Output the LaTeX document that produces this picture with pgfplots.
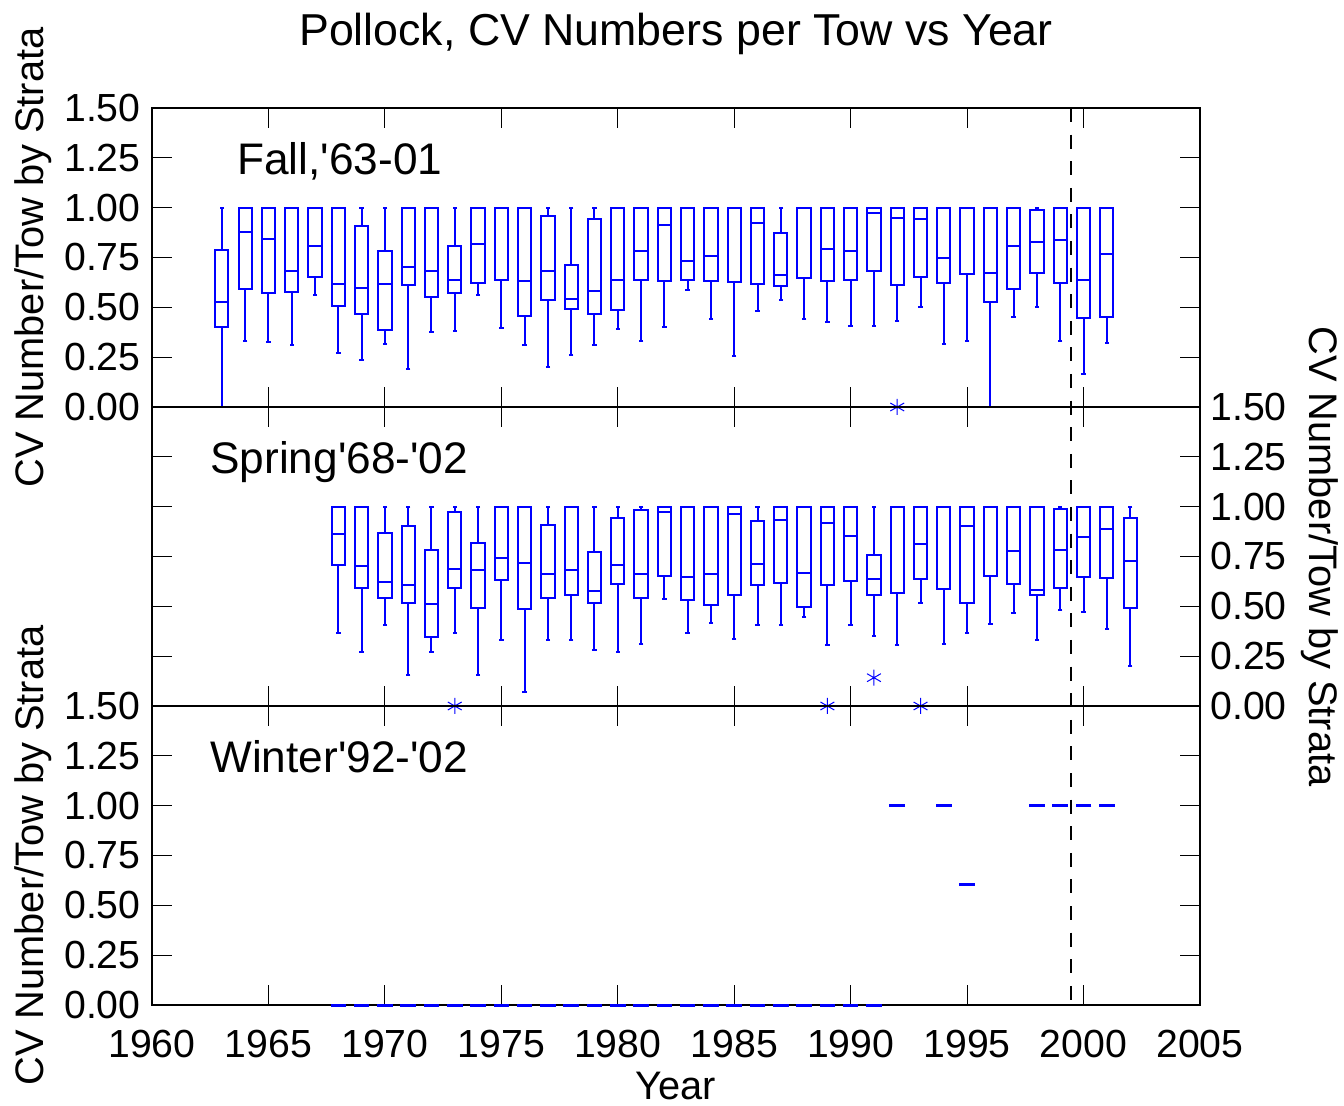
\documentclass[border=0pt]{standalone}
\usepackage{pgfplots}
\usepackage{pgfplotstable}
\pgfplotsset{compat=1.18}
\usepackage{fontspec}
\setmainfont{Liberation Sans}[Ligatures=TeXOff]

% year, lower whisker, lower quartile, median, upper quartile, upper whisker
\pgfplotstableread{
year lw q1 med q3 uw
1963 0 0.40 0.525 0.79 1.0
1964 0.333 0.59 0.878 1.0 1.0
1965 0.327 0.57 0.845 1.0 1.0
1966 0.312 0.577 0.683 1.0 1.0
1967 0.56 0.653 0.807 1.0 1.0
1968 0.273 0.507 0.615 1.0 1.0
1969 0.235 0.467 0.595 0.907 1.0
1970 0.317 0.388 0.615 0.783 1.0
1971 0.192 0.612 0.702 1.0 1.0
1972 0.375 0.552 0.683 1.0 1.0
1973 0.383 0.57 0.638 0.808 1.0
1974 0.562 0.622 0.82 1.0 1.0
1975 0.398 0.635 1.0 1.0 1.0
1976 0.312 0.458 0.632 1.0 1.0
1977 0.2 0.538 0.682 0.957 1.0
1978 0.263 0.49 0.543 0.713 1.0
1979 0.312 0.465 0.583 0.943 1.0
1980 0.393 0.488 0.638 1.0 1.0
1981 0.333 0.638 0.783 1.0 1.0
1982 0.4 0.632 0.913 1.0 1.0
1983 0.588 0.638 0.732 1.0 1.0
1984 0.44 0.632 0.758 1.0 1.0
1985 0.258 0.627 1.0 1.0 1.0
1986 0.48 0.615 0.923 1.0 1.0
1987 0.538 0.608 0.66 0.875 1.0
1988 0.44 0.645 1.0 1.0 1.0
1989 0.428 0.633 0.793 1.0 1.0
1990 0.408 0.637 0.783 1.0 1.0
1991 0.408 0.683 0.973 1.0 1.0
1992 0.43 0.612 0.947 1.0 1.0
1993 0.5 0.652 0.942 1.0 1.0
1994 0.317 0.622 0.747 1.0 1.0
1995 0.333 0.667 1.0 1.0 1.0
1996 0 0.528 0.673 1.0 1.0
1997 0.453 0.592 0.808 1.0 1.0
1998 0.5 0.67 0.828 0.987 1.0
1999 0.333 0.623 0.84 1.0 1.0
2000 0.168 0.448 0.638 1.0 1.0
2001 0.322 0.45 0.77 1.0 1.0
}\fall

\pgfplotstableread{
year lw q1 med q3 uw
1968 0.365 0.705 0.863 1.0 1.0
1969 0.273 0.593 0.70 1.0 1.0
1970 0.408 0.542 0.62 0.87 1.0
1971 0.158 0.518 0.607 0.905 1.0
1972 0.273 0.348 0.512 0.783 1.0
1973 0.365 0.592 0.687 0.975 1.0
1974 0.153 0.49 0.683 0.818 1.0
1975 0.333 0.633 0.742 1.0 1.0
1976 0.072 0.485 0.717 1.0 1.0
1977 0.333 0.542 0.66 0.91 1.0
1978 0.333 0.557 0.683 1.0 1.0
1979 0.282 0.515 0.577 0.772 1.0
1980 0.273 0.61 0.705 0.943 1.0
1981 0.313 0.543 0.663 0.985 1.0
1982 0.535 0.652 0.972 1.0 1.0
1983 0.368 0.533 0.645 1.0 1.0
1984 0.418 0.507 0.662 1.0 1.0
1985 0.335 0.555 0.962 1.0 1.0
1986 0.408 0.607 0.713 0.93 1.0
1987 0.408 0.615 0.935 1.0 1.0
1988 0.447 0.495 0.667 1.0 1.0
1989 0.305 0.608 0.918 1.0 1.0
1990 0.408 0.627 0.853 1.0 1.0
1991 0.352 0.555 0.635 0.758 1.0
1992 0.305 0.567 1.0 1.0 1.0
1993 0.515 0.638 0.812 1.0 1.0
1994 0.312 0.587 1.0 1.0 1.0
1995 0.368 0.517 0.905 1.0 1.0
1996 0.41 0.653 1.0 1.0 1.0
1997 0.467 0.612 0.778 1.0 1.0
1998 0.333 0.557 0.582 1.0 1.0
1999 0.482 0.592 0.785 0.987 1.0
2000 0.47 0.647 0.85 1.0 1.0
2001 0.387 0.643 0.89 1.0 1.0
2002 0.2 0.492 0.728 0.945 1.0
}\spring

% winter boxes are degenerate: all five statistics equal
\pgfplotstableread{
year med
1968 0
1969 0
1970 0
1971 0
1972 0
1973 0
1974 0
1975 0
1976 0
1977 0
1978 0
1979 0
1980 0
1981 0
1982 0
1983 0
1984 0
1985 0
1986 0
1987 0
1988 0
1989 0
1990 0
1991 0
1992 1.0
1994 1.0
1995 0.607
1998 1.0
1999 1.0
2000 1.0
2001 1.0
}\winter

\tikzset{
  ann/.style={anchor=base west, inner sep=0pt, font=\fontsize{22.1}{26}\selectfont},
  lab/.style={inner sep=0pt, font=\fontsize{19.9}{24}\selectfont},
}
\pgfplotsset{
  bxe/.style={blue, only marks, mark=-, mark size=0pt, line width=1pt,
    error bars/error mark=none,
    error bars/error bar style={blue, line width=1pt, solid, line cap=rect}},
  panel/.style={
    scale only axis, width=524pt, height=149.5pt,
    xmin=1960, xmax=2005, ymin=0, ymax=1.5,
    xtick={1960,1965,...,2005},
    ytick={0,0.25,0.5,0.75,1,1.25,1.5},
    tick align=inside, major tick length=10pt,
    axis line style={line width=1pt},
    tick style={black, line width=0.6pt},
    clip=false,
    /pgf/number format/assume math mode=true,
    tick label style={font=\fontsize{19.6}{22}\selectfont},
    xticklabel style={/pgf/number format/1000 sep={}},
    yticklabel style={/pgf/number format/fixed, /pgf/number format/fixed zerofill, /pgf/number format/precision=2},
  },
}
% box plots drawn from a table: box sides (error bars), whiskers (error bars) with caps (marks),
% quartile and median lines (horizontal marks 0.57 year wide)
\newcommand\boxes[1]{%
  \addplot[bxe, error bars/.cd, y dir=plus, y explicit]
    table[x expr=\thisrow{year}-0.285, y=q1, y error plus expr=\thisrow{q3}-\thisrow{q1}] {#1};
  \addplot[bxe, error bars/.cd, y dir=plus, y explicit]
    table[x expr=\thisrow{year}+0.285, y=q1, y error plus expr=\thisrow{q3}-\thisrow{q1}] {#1};
  \addplot[bxe, mark size=1.1pt, error bars/.cd, y dir=minus, y explicit]
    table[x=year, y=uw, y error minus expr=\thisrow{uw}-\thisrow{q3}] {#1};
  \addplot[bxe, mark size=1.1pt, error bars/.cd, y dir=plus, y explicit]
    table[x=year, y=lw, y error plus expr=\thisrow{q1}-\thisrow{lw}] {#1};
  \addplot[bxe, mark size=3.32pt] table[x=year, y=q1] {#1};
  \addplot[bxe, mark size=3.32pt] table[x=year, y=med] {#1};
  \addplot[bxe, mark size=3.32pt] table[x=year, y=q3] {#1};
}

\begin{document}
\begin{tikzpicture}
\path[use as bounding box] (-76pt,54pt) rectangle (596pt,-499pt);

% ---------------- Fall ----------------
\begin{axis}[panel, at={(0,0)}, anchor=north west, xticklabels={},
  yticklabel style={anchor=east, inner sep=0pt, xshift=-5.5pt}]
\boxes{\fall}
\addplot[blue, only marks, mark=asterisk, mark size=4pt, line width=0.5pt] coordinates {(1992,0)};
\addplot[black, line width=1.2pt, dash pattern=on 7pt off 6.3pt] coordinates {(1999.45,1.5) (1999.45,-3)};
\node[anchor=base, font=\fontsize{22.35}{26}\selectfont, yshift=31pt] at (rel axis cs:0.5,1) {Pollock, CV Numbers per Tow vs Year};
\node[ann] at (rel axis cs:0.081,0.776) {Fall,'63-01};
\node[lab, rotate=90] at (rel axis cs:-0.1135,0.5) {CV Number/Tow by Strata};
\end{axis}

% ---------------- Spring ----------------
\begin{axis}[panel, at={(0,-149.5pt)}, anchor=north west, xticklabels={},
  yticklabel pos=right,
  yticklabel style={anchor=west, inner sep=0pt, xshift=5pt}]
\boxes{\spring}
\addplot[blue, only marks, mark=asterisk, mark size=4pt, line width=0.5pt] coordinates {(1973,0) (1989,0) (1991,0.142) (1993,0)};
\node[ann] at (rel axis cs:0.0553,0.776) {Spring'68-'02};
\node[lab, rotate=-90] at (rel axis cs:1.1145,0.5) {CV Number/Tow by Strata};
\end{axis}

% ---------------- Winter ----------------
\begin{axis}[panel, at={(0,-299pt)}, anchor=north west,
  xticklabel style={anchor=base, yshift=-26pt},
  yticklabel style={anchor=east, inner sep=0pt, xshift=-5.5pt}]
\addplot[blue, only marks, mark=-, mark size=3.9pt, line width=1.5pt] table[x=year, y=med] {\winter};
\node[ann] at (rel axis cs:0.0553,0.776) {Winter'92-'02};
\node[lab, rotate=90] at (rel axis cs:-0.1135,0.5) {CV Number/Tow by Strata};
\node[lab, anchor=base, yshift=-47pt] at (rel axis cs:0.5,0) {Year};
\end{axis}
\end{tikzpicture}
\end{document}
